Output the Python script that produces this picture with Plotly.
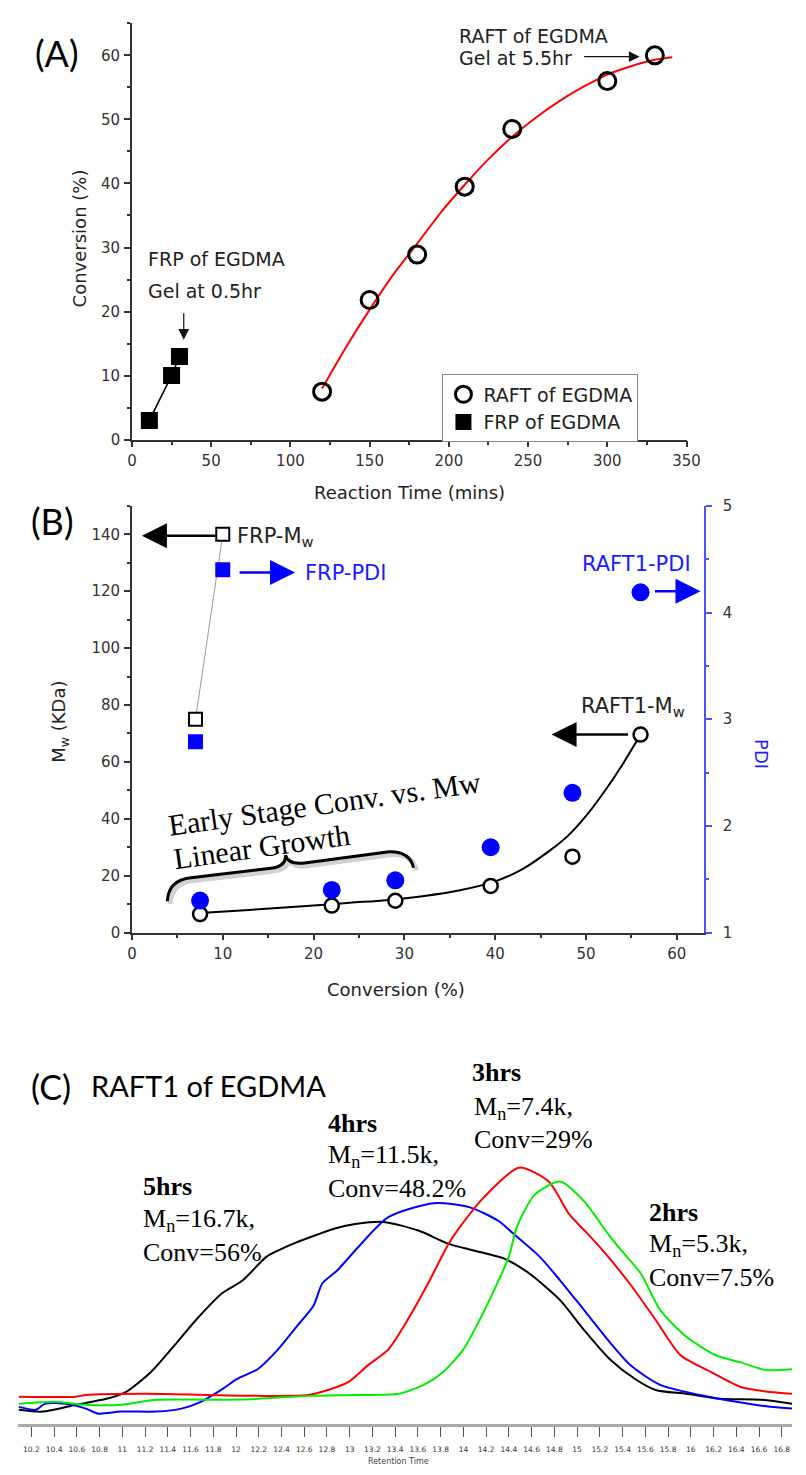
import plotly.graph_objects as go

W, H = 806, 1475
def px(x): return x / W
def py(y): return 1 - y / H

SANS = "DejaVu Sans"
SERIF = "Liberation Serif"
TXT = "#222222"

# ---------------- Panel A data ----------------
raft_time = [120, 150, 180, 210, 240, 300, 330]
raft_conv = [7.5, 21.8, 28.9, 39.5, 48.5, 56.0, 60.0]
raft_fit_time = [120, 135, 150, 165, 180, 195, 210, 225, 240, 255, 270, 285, 300, 315, 330, 341]
raft_fit_conv = [8.0, 14.4, 20.3, 25.8, 30.6, 35.5, 39.8, 43.8, 47.3, 50.3, 52.9, 55.1, 57.0, 58.3, 59.3, 59.7]
frp_time = [11, 25, 30]
frp_conv = [3.0, 10.0, 13.0]

# ---------------- Panel B data ----------------
raft1_conv = [7.5, 22.0, 29.0, 39.5, 48.5, 56.0]
raft1_mw = [6.5, 9.5, 11.2, 16.4, 26.7, 69.6]
raft1_pdi = [1.30, 1.40, 1.49, 1.80, 2.31, 4.19]
raft1_fit_conv = [7.5, 12, 16, 20, 24, 28, 32, 36, 40, 43, 46, 48, 50, 52, 54, 56]
raft1_fit_mw = [6.9, 7.8, 8.6, 9.5, 10.5, 11.4, 12.8, 14.8, 18.0, 22.3, 28.8, 34.0, 41.0, 49.5, 59.0, 69.6]
frp_conv_b = [7.0, 10.0]
frp_mw = [75.0, 140.0]
frp_pdi = [2.79, 4.40]

# ---------------- Panel C data (GPC traces) ----------------
t_5h = [10.09, 10.30, 10.59, 10.86, 11.03, 11.25, 11.48, 11.65, 11.88, 12.06, 12.27, 12.50, 12.72, 12.87,
        13.05, 13.30, 13.61, 13.87, 14.10, 14.36, 14.58, 14.85, 15.06, 15.29, 15.51, 15.69, 15.96, 16.26,
        16.62, 16.89]
s_5h = [3.3, 2.7, 5.0, 7.0, 9.3, 16.0, 26.0, 33.7, 42.7, 47.0, 55.0, 59.3, 62.5, 64.5,
        66.0, 66.7, 63.7, 59.3, 57.0, 54.3, 49.3, 40.3, 30.3, 20.3, 13.7, 10.0, 8.7, 7.0,
        6.7, 5.3]
t_4h = [10.09, 10.24, 10.32, 10.50, 10.68, 10.79, 10.99, 11.30, 11.52, 11.69, 11.88, 12.01, 12.19, 12.37,
        12.54, 12.68, 12.76, 12.89, 13.07, 13.34, 13.74, 14.05, 14.31, 14.44, 14.67, 14.85, 15.06, 15.29,
        15.47, 15.73, 16.08, 16.40, 16.70, 16.89]
s_4h = [4.3, 3.3, 5.3, 5.3, 3.7, 2.0, 2.7, 2.7, 3.7, 6.0, 10.3, 13.7, 17.0, 23.7,
        31.7, 38.3, 46.0, 50.3, 58.0, 68.3, 73.0, 71.7, 67.0, 62.7, 55.0, 47.0, 37.0, 26.0,
        18.3, 11.7, 8.3, 6.0, 4.3, 3.7]
t_3h = [10.09, 10.59, 10.68, 11.21, 11.75, 12.19, 12.63, 12.81, 12.99, 13.16, 13.34, 13.51, 13.69, 13.87,
        13.96, 14.18, 14.49, 14.75, 14.93, 15.11, 15.25, 15.47, 15.69, 15.91, 16.18, 16.44, 16.70, 16.89]
s_3h = [7.7, 7.7, 8.3, 8.7, 8.3, 8.0, 8.3, 10.0, 12.7, 18.3, 23.7, 33.7, 46.0, 59.3,
        64.5, 75.0, 85.0, 80.3, 69.3, 62.0, 56.0, 45.5, 33.7, 21.7, 16.0, 11.0, 9.3, 8.7]
t_2h = [10.09, 10.41, 10.68, 10.99, 11.30, 11.75, 12.19, 12.63, 13.07, 13.43, 13.65, 13.82, 14.00, 14.13,
        14.27, 14.40, 14.47, 14.63, 14.85, 15.06, 15.29, 15.38, 15.56, 15.73, 15.95, 16.22, 16.44, 16.66,
        16.89]
s_2h = [5.3, 6.0, 5.0, 5.0, 6.7, 6.7, 7.0, 8.0, 8.3, 8.7, 11.7, 16.0, 23.7, 32.7,
        43.7, 55.0, 65.0, 76.0, 80.3, 73.7, 61.7, 57.5, 49.3, 37.0, 28.3, 21.7, 19.3, 16.7,
        17.0]
c_tick_labels = ["10.2", "10.4", "10.6", "10.8", "11", "11.2", "11.4", "11.6", "11.8", "12", "12.2", "12.4",
                 "12.6", "12.8", "13", "13.2", "13.4", "13.6", "13.8", "14", "14.2", "14.4", "14.6", "14.8",
                 "15", "15.2", "15.4", "15.6", "15.8", "16", "16.2", "16.4", "16.6", "16.8"]

fig = go.Figure()

# ---- Panel A traces ----
fig.add_trace(go.Scatter(x=raft_fit_time, y=raft_fit_conv, mode="lines",
                         line=dict(color="#ff0000", width=2, shape="spline", smoothing=0.8),
                         showlegend=False, hoverinfo="skip", xaxis="x", yaxis="y"))
fig.add_trace(go.Scatter(x=frp_time, y=frp_conv, mode="lines", line=dict(color="black", width=1.6),
                         showlegend=False, xaxis="x", yaxis="y"))
fig.add_trace(go.Scatter(x=raft_time, y=raft_conv, mode="markers", name="RAFT of EGDMA",
                         marker=dict(symbol="circle-open", size=17, color="black", line=dict(width=3)),
                         xaxis="x", yaxis="y"))
fig.add_trace(go.Scatter(x=frp_time, y=frp_conv, mode="markers", name="FRP of EGDMA",
                         marker=dict(symbol="square", size=17, color="black"), xaxis="x", yaxis="y"))

# ---- Panel B traces ----
fig.add_trace(go.Scatter(x=raft1_fit_conv, y=raft1_fit_mw, mode="lines",
                         line=dict(color="black", width=2, shape="spline", smoothing=0.8),
                         showlegend=False, xaxis="x2", yaxis="y2"))
fig.add_trace(go.Scatter(x=frp_conv_b, y=frp_mw, mode="lines", line=dict(color="#999999", width=1),
                         showlegend=False, xaxis="x2", yaxis="y2"))
fig.add_trace(go.Scatter(x=raft1_conv, y=raft1_mw, mode="markers", showlegend=False,
                         marker=dict(symbol="circle", size=14, color="white", line=dict(width=2.5, color="black")),
                         xaxis="x2", yaxis="y2"))
fig.add_trace(go.Scatter(x=frp_conv_b, y=frp_mw, mode="markers", showlegend=False,
                         marker=dict(symbol="square", size=13, color="white", line=dict(width=2, color="black")),
                         xaxis="x2", yaxis="y2"))
fig.add_trace(go.Scatter(x=raft1_conv, y=raft1_pdi, mode="markers", showlegend=False,
                         marker=dict(symbol="circle", size=18, color="#0000ff"), xaxis="x2", yaxis="y3"))
fig.add_trace(go.Scatter(x=frp_conv_b, y=frp_pdi, mode="markers", showlegend=False,
                         marker=dict(symbol="square", size=15, color="#0000ff"), xaxis="x2", yaxis="y3"))

# ---- Panel C traces ----
for t, s, c in [(t_5h, s_5h, "#000000"), (t_4h, s_4h, "#0000ff"), (t_3h, s_3h, "#ff0000"), (t_2h, s_2h, "#00ee00")]:
    fig.add_trace(go.Scatter(x=t, y=s, mode="lines", line=dict(color=c, width=2, shape="spline", smoothing=0.7),
                             showlegend=False, xaxis="x3", yaxis="y4"))

tickfont = dict(family=SANS, size=15, color="#333333")
ax_common = dict(showline=True, linecolor="#333333", linewidth=1.5, ticks="outside", ticklen=6, tickwidth=1.5,
                 tickcolor="#333333", showgrid=False, zeroline=False, tickfont=tickfont, ticklabelstandoff=1)

fig.update_layout(
    width=W, height=H, margin=dict(l=0, r=0, t=0, b=0),
    paper_bgcolor="white", plot_bgcolor="white",
    xaxis=dict(domain=[px(130), px(698)], range=[0, 350], anchor="y", dtick=50, tick0=0,
               minor=dict(dtick=25, ticklen=3.5, ticks="outside", tickcolor="#333333"), **ax_common),
    yaxis=dict(domain=[py(436), py(14.5)], range=[0, 65], anchor="x", dtick=10, tick0=0,
               minor=dict(dtick=5, ticklen=3.5, ticks="outside", tickcolor="#333333"), **ax_common),
    xaxis2=dict(domain=[px(130), px(716)], range=[0, 63], anchor="y2", dtick=10, tick0=0,
                minor=dict(dtick=5, ticklen=3.5, ticks="outside", tickcolor="#333333"), **ax_common),
    yaxis2=dict(domain=[py(935), py(503)], range=[0, 150], anchor="x2", dtick=20, tick0=0,
                minor=dict(dtick=10, ticklen=3.5, ticks="outside", tickcolor="#333333"), **ax_common),
    yaxis3=dict(overlaying="y2", side="right", anchor="x2", range=[1, 5], dtick=1, tick0=1,
                showline=True, linecolor="#5050ff", linewidth=1.5, ticks="outside", ticklen=6, tickwidth=1.5,
                tickcolor="#5050ff", showgrid=False, zeroline=False, tickfont=tickfont, ticklabelstandoff=8,
                minor=dict(dtick=0.5, ticklen=3.5, ticks="outside", tickcolor="#5050ff")),
    xaxis3=dict(domain=[px(13), 1.0], range=[10.08, 16.89], anchor="y4",
                tickvals=[float(s) for s in c_tick_labels], ticktext=c_tick_labels,
                showline=True, linecolor="#aaaaaa", linewidth=3, ticks="outside", ticklen=10, tickwidth=1,
                tickcolor="#555555", showgrid=False, zeroline=False,
                tickfont=dict(family=SANS, size=7.5, color="#333333"), ticklabelstandoff=6),
    yaxis4=dict(domain=[py(1432), py(1128)], range=[-1.33, 100], anchor="x3", visible=False),
    legend=dict(x=px(448), y=py(370), xanchor="left", yanchor="top", bordercolor="#888888", borderwidth=1,
                bgcolor="white", font=dict(family=SANS, size=19, color=TXT), tracegroupgap=0),
)

ann = []
def ptext(x, y, text, size, color=TXT, family=SANS, xanchor="center", angle=0):
    ann.append(dict(x=px(x), y=py(y), xref="paper", yref="paper", text=text, showarrow=False,
                    font=dict(family=family, size=size, color=color), xanchor=xanchor, yanchor="middle",
                    textangle=angle))

def arrow(x, y, xref, yref, ax, ay, color, width, size):
    ann.append(dict(x=x, y=y, xref=xref, yref=yref, ax=ax, ay=ay, axref="pixel", ayref="pixel", text="",
                    showarrow=True, arrowhead=2, arrowwidth=width, arrowsize=size, arrowcolor=color,
                    standoff=0))

# Panel A texts
ptext(53, 45, "(A)", 36, color="black", family="Lato")
ptext(76, 232, "Conversion (%)", 18, angle=-90)
ptext(414, 489, "Reaction Time (mins)", 18)
ptext(463, 27, "RAFT of EGDMA", 19, xanchor="left")
ptext(463, 50, "Gel at 5.5hr", 19, xanchor="left")
ptext(144, 253, "FRP of EGDMA", 19, xanchor="left")
ptext(144, 285, "Gel at 0.5hr", 19, xanchor="left")
arrow(320.4, 59.8, "x", "y", -57, 0, "#111111", 1.2, 1.8)
arrow(32.7, 15.6, "x", "y", 0, -28, "#111111", 1.2, 1.8)

# Panel B texts
ptext(49, 518, "(B)", 36, color="black", family="Lato")
ptext(57, 722, "M<sub>w</sub> (KDa)", 18, angle=-90)
ptext(774, 754, "PDI", 18, color="#2020ff", angle=90)
ptext(400, 993, "Conversion (%)", 18)
ptext(236, 535, "FRP-M<sub>w</sub>", 21, xanchor="left")
ptext(305, 571, "FRP-PDI", 21, color="#1a1aff", xanchor="left")
ptext(589, 562, "RAFT1-PDI", 21, color="#1a1aff", xanchor="left")
ptext(588, 707, "RAFT1-M<sub>w</sub>", 21, xanchor="left")
ptext(327, 804, "Early Stage Conv. vs. Mw", 30, color="black", family=SERIF, angle=-8)
ptext(263, 848, "Linear Growth", 30, color="black", family=SERIF, angle=-8)
arrow(1.1, 139.5, "x2", "y2", 75, 0, "black", 2.5, 2)
arrow(17.96, 126.6, "x2", "y2", -57, 0, "#0000ff", 2.5, 2)
arrow(62.6, 120.0, "x2", "y2", -47, 0, "#0000ff", 2.5, 2)
arrow(46.2, 69.6, "x2", "y2", 78, 0, "black", 2.5, 2)

# Panel C texts
ptext(47, 1091, "(C)", 34, color="black", family="Lato")
ptext(86, 1090, "RAFT1 of EGDMA", 29, color="black", family="Lato", xanchor="left")
CS = 26
ptext(476, 1077, "<b>3hrs</b>", CS, color="black", family=SERIF, xanchor="left")
ptext(478, 1113, "M<sub>n</sub>=7.4k,", CS, color="black", family=SERIF, xanchor="left")
ptext(478, 1144, "Conv=29%", CS, color="black", family=SERIF, xanchor="left")
ptext(329, 1128, "<b>4hrs</b>", CS, color="black", family=SERIF, xanchor="left")
ptext(329, 1161, "M<sub>n</sub>=11.5k,", CS, color="black", family=SERIF, xanchor="left")
ptext(329, 1194, "Conv=48.2%", CS, color="black", family=SERIF, xanchor="left")
ptext(139, 1192, "<b>5hrs</b>", CS, color="black", family=SERIF, xanchor="left")
ptext(139, 1226, "M<sub>n</sub>=16.7k,", CS, color="black", family=SERIF, xanchor="left")
ptext(139, 1259, "Conv=56%", CS, color="black", family=SERIF, xanchor="left")
ptext(658, 1218, "<b>2hrs</b>", CS, color="black", family=SERIF, xanchor="left")
ptext(658, 1251, "M<sub>n</sub>=5.3k,", CS, color="black", family=SERIF, xanchor="left")
ptext(658, 1284, "Conv=7.5%", CS, color="black", family=SERIF, xanchor="left")
ptext(403, 1470, "Retention Time", 8, color="#444444")

fig.update_layout(annotations=ann)

brace = ("M 3.9,11 Q 4.0,18.5 6.5,19.3 L 15.3,22.6 Q 17.0,23.3 16.9,27.2 "
         "Q 17.2,24.0 18.8,24.4 L 28.3,28.4 Q 30.6,28.6 31.0,22.8")
brace_shadow = ("M 4.2,10 Q 4.3,17.5 6.8,18.3 L 15.6,21.6 Q 17.3,22.3 17.2,26.2 "
                "Q 17.5,23.0 19.1,23.4 L 28.6,27.4 Q 30.9,27.6 31.3,21.8")
fig.update_layout(shapes=[
    dict(type="path", path=brace_shadow, xref="x2", yref="y2", line=dict(color="rgba(0,0,0,0.18)", width=5)),
    dict(type="path", path=brace, xref="x2", yref="y2", line=dict(color="black", width=3)),
])

fig.write_html("out.html")
